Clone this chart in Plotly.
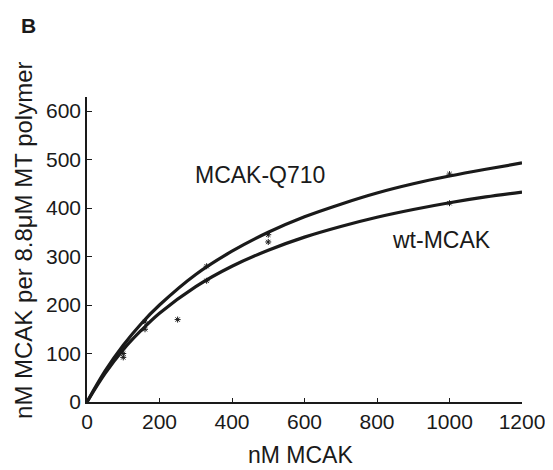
import plotly.graph_objects as go

# fitted binding curves
curve_x = [0, 50, 100, 150, 200, 300, 400, 500, 600, 700, 800, 900, 1000, 1100, 1200]
q710_curve = [0, 64, 117, 162, 200, 263, 311, 350, 382, 408, 431, 450, 466, 480, 493]
wt_curve = [0, 59, 108, 148, 183, 238, 280, 313, 340, 362, 381, 397, 411, 423, 433]

# data points
q710_pts_x = [100, 160, 330, 500, 1000]
q710_pts_y = [100, 165, 280, 345, 470]
wt_pts_x = [100, 160, 250, 330, 500, 1000]
wt_pts_y = [92, 150, 170, 250, 330, 410]

x_ticks = [0, 200, 400, 600, 800, 1000, 1200]
y_ticks = [0, 100, 200, 300, 400, 500, 600]

ink = "#1a1a1a"
font = "Liberation Sans, Arial, sans-serif"

fig = go.Figure()
fig.add_trace(go.Scatter(x=curve_x, y=q710_curve, mode="lines",
                         line=dict(color=ink, width=3.2, shape="spline"), showlegend=False))
fig.add_trace(go.Scatter(x=curve_x, y=wt_curve, mode="lines",
                         line=dict(color=ink, width=3.2, shape="spline"), showlegend=False))
fig.add_trace(go.Scatter(x=q710_pts_x, y=q710_pts_y, mode="markers",
                         marker=dict(symbol="asterisk", size=5, color=ink, line=dict(width=1, color=ink)),
                         showlegend=False))
fig.add_trace(go.Scatter(x=wt_pts_x, y=wt_pts_y, mode="markers",
                         marker=dict(symbol="asterisk", size=5, color=ink, line=dict(width=1, color=ink)),
                         showlegend=False))

fig.add_annotation(x=477, y=468, text="MCAK-Q710", showarrow=False,
                   xanchor="center", yanchor="middle",
                   font=dict(family=font, size=23, color=ink))
fig.add_annotation(x=977, y=334, text="wt-MCAK", showarrow=False,
                   xanchor="center", yanchor="middle",
                   font=dict(family=font, size=23, color=ink))
fig.add_annotation(x=-0.1356, y=1.233, xref="paper", yref="paper", text="<b>B</b>",
                   xanchor="center", yanchor="middle",
                   showarrow=False, font=dict(family=font, size=21, color=ink))
fig.add_annotation(x=-0.1448, y=0.528, xref="paper", yref="paper",
                   text="nM MCAK per 8.8μM MT polymer", textangle=-90,
                   xanchor="center", yanchor="middle",
                   showarrow=False, font=dict(family=font, size=24, color=ink))
fig.add_annotation(x=0.49, y=-0.174, xref="paper", yref="paper", text="nM MCAK",
                   xanchor="center", yanchor="middle",
                   showarrow=False, font=dict(family=font, size=23, color=ink))

fig.update_layout(
    width=545, height=462,
    margin=dict(l=79, r=31, t=89, b=68),
    paper_bgcolor="white", plot_bgcolor="white",
    font=dict(family=font, size=21, color=ink),
    xaxis=dict(range=[0, 1200], tickvals=x_ticks, ticks="inside", ticklen=4, tickwidth=1,
               tickcolor=ink, showline=True, linecolor=ink, linewidth=1.5, showgrid=False,
               zeroline=False, tickfont=dict(size=21), automargin=False),
    yaxis=dict(range=[0, 629], tickvals=y_ticks, ticks="inside", ticklen=5, tickwidth=1,
               tickcolor=ink, showline=True, linecolor=ink, linewidth=1.5, showgrid=False,
               zeroline=False, tickfont=dict(size=21), automargin=False),
)

fig.write_html("out.html")
